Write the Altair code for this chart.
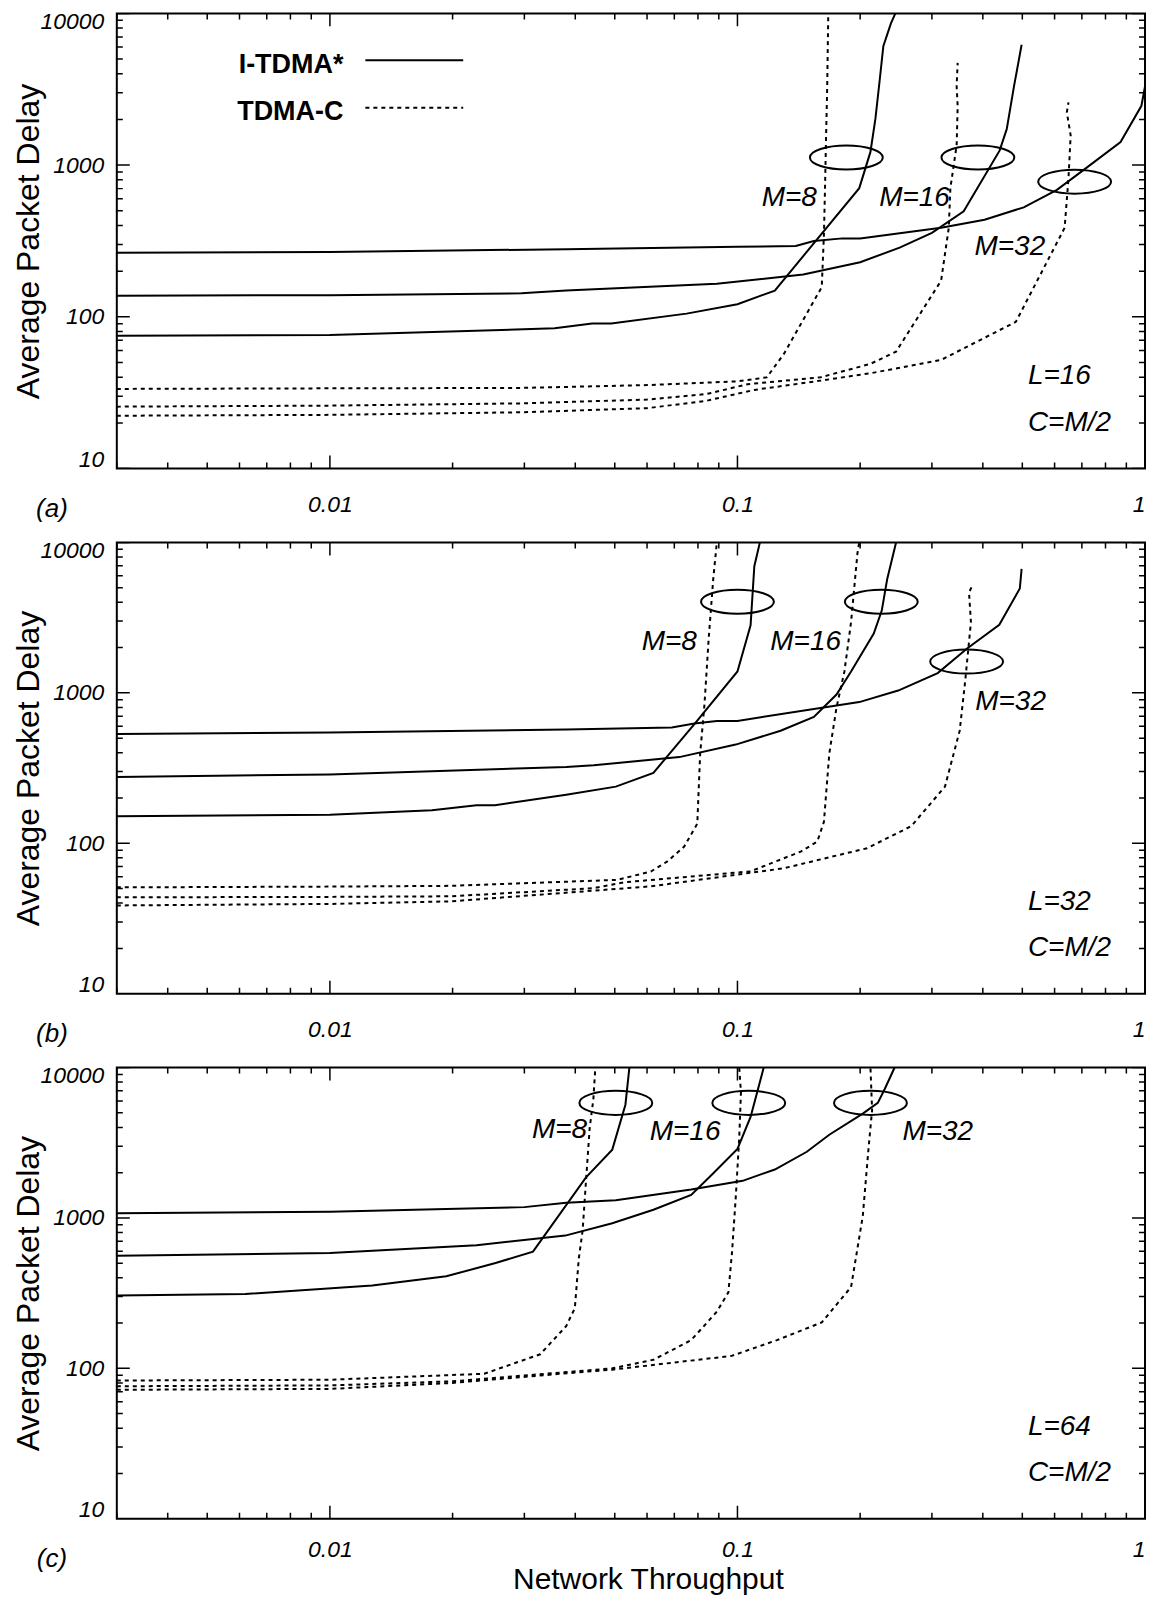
import altair as alt
import pandas as pd

FONT = "Liberation Sans"
W = 1030
HEIGHTS = [456, 452, 452]

# ---------------- data ----------------
# Panel (a): L=16
A_I32_X = [0.003, 0.01, 0.038, 0.1, 0.139, 0.154, 0.181, 0.2, 0.316, 0.404, 0.504, 0.608, 0.706, 0.871, 0.98, 1.0]
A_I32_Y = [265, 268, 279, 290, 293, 316, 329, 329, 386, 437, 527, 687, 927, 1420, 2460, 3300]
A_I16_X = [0.003, 0.01, 0.0295, 0.038, 0.089, 0.145, 0.2, 0.25, 0.3, 0.359, 0.44, 0.458, 0.477, 0.498]
A_I16_Y = [138, 139, 143, 149, 165, 190, 229, 286, 358, 496, 1250, 1733, 3300, 6210]
A_I8_X = [0.003, 0.01, 0.0356, 0.044, 0.049, 0.075, 0.1, 0.1235, 0.199, 0.212, 0.218, 0.223, 0.228, 0.238, 0.244]
A_I8_Y = [75, 76, 84, 90.5, 90.5, 105, 121, 149, 705, 1222, 2015, 3490, 6070, 8600, 10000]
A_C8_X = [0.003, 0.01, 0.0294, 0.06, 0.1, 0.118, 0.13, 0.14, 0.161, 0.163, 0.164, 0.165, 0.166, 0.167]
A_C8_Y = [33.5, 33.8, 34, 35.5, 37.6, 39.9, 57, 81, 157, 349, 705, 1570, 3160, 9500]
A_C16_X = [0.003, 0.01, 0.0294, 0.06, 0.084, 0.106, 0.16, 0.212, 0.245, 0.316, 0.33, 0.333, 0.345, 0.347, 0.345, 0.347]
A_C16_Y = [25.6, 26, 26.9, 28.5, 31, 36, 40, 49, 59, 173, 386, 705, 1350, 2460, 3300, 4720]
A_C32_X = [0.003, 0.01, 0.0294, 0.06, 0.084, 0.11, 0.16, 0.212, 0.316, 0.482, 0.635, 0.649, 0.657, 0.643, 0.649]
A_C32_Y = [22.3, 22.6, 23.5, 25, 28, 33, 38, 42.5, 52, 92.7, 386, 819, 1570, 2230, 2590]

# Panel (b): L=32
B_I32_X = [0.003, 0.01, 0.038, 0.069, 0.0784, 0.089, 0.1, 0.199, 0.248, 0.31, 0.366, 0.439, 0.493, 0.498]
B_I32_Y = [533, 545, 570, 589, 625, 651, 651, 868, 1036, 1353, 1974, 2838, 4940, 6680]
B_I16_X = [0.003, 0.01, 0.038, 0.0444, 0.072, 0.099, 0.1276, 0.154, 0.175, 0.19, 0.216, 0.226, 0.233, 0.245]
B_I16_Y = [276, 287, 322, 330, 374, 453, 560, 692, 975, 1388, 2478, 3524, 5690, 10000]
B_I8_X = [0.003, 0.01, 0.0178, 0.0229, 0.0254, 0.038, 0.0503, 0.0622, 0.0784, 0.1, 0.1077, 0.11, 0.1135]
B_I8_Y = [151, 155, 166, 179, 179, 210, 238, 294, 619, 1388, 2810, 6950, 10000]
B_C8_X = [0.003, 0.01, 0.0198, 0.0507, 0.0613, 0.0673, 0.074, 0.0797, 0.081, 0.083, 0.085, 0.0872, 0.089]
B_C8_Y = [50.9, 51.5, 52.1, 57.1, 64.9, 75.7, 95, 135, 394, 838, 2296, 5690, 10000]
B_C16_X = [0.003, 0.01, 0.0198, 0.0445, 0.0527, 0.1076, 0.143, 0.157, 0.163, 0.168, 0.175, 0.183, 0.19, 0.197, 0.199]
B_C16_Y = [43.7, 44, 44.4, 50.3, 55, 65, 88, 102.6, 139, 394, 798, 1388, 2950, 8500, 10000]
B_C32_X = [0.003, 0.01, 0.0198, 0.0613, 0.13, 0.208, 0.267, 0.323, 0.351, 0.362, 0.374, 0.37, 0.378]
B_C32_Y = [38.6, 39.5, 41.1, 51.7, 68.2, 92.7, 130, 238, 560, 1193, 2950, 4645, 5270]

# Panel (c): L=64
C_I32_X = [0.003, 0.01, 0.03, 0.038, 0.0503, 0.077, 0.103, 0.1235, 0.148, 0.168, 0.203, 0.221, 0.23, 0.243]
C_I32_Y = [1075, 1100, 1180, 1260, 1311, 1543, 1765, 2099, 2754, 3574, 4940, 5820, 7230, 10000]
C_I16_X = [0.003, 0.01, 0.0229, 0.0378, 0.0493, 0.0622, 0.077, 0.087, 0.1, 0.1077, 0.116]
C_I16_Y = [560, 585, 659, 763, 922, 1133, 1422, 1968, 2878, 4690, 10000]
C_I8_X = [0.003, 0.0062, 0.0127, 0.0193, 0.0255, 0.0315, 0.0425, 0.0493, 0.0531, 0.0543]
C_I8_Y = [305, 312, 356, 409, 502, 597, 1862, 2846, 5660, 10000]
C_C8_X = [0.003, 0.01, 0.0239, 0.0328, 0.038, 0.0399, 0.0408, 0.0417, 0.0425, 0.0434, 0.0443, 0.0448]
C_C8_Y = [83, 84, 92, 124, 191, 251, 536, 828, 1765, 3980, 6140, 10000]
C_C16_X = [0.003, 0.01, 0.02, 0.0386, 0.0493, 0.0622, 0.077, 0.089, 0.095, 0.097, 0.099, 0.101, 0.102, 0.101]
C_C16_Y = [76, 77, 82, 94.7, 100, 114, 154, 238, 320, 597, 1346, 3383, 6840, 10000]
C_C32_X = [0.003, 0.01, 0.02, 0.0386, 0.0493, 0.0968, 0.125, 0.161, 0.19, 0.203, 0.21, 0.214, 0.212]
C_C32_Y = [72, 73, 80, 93, 98, 121, 154, 202, 347, 1027, 3034, 5220, 10000]

# Ellipse (group marker) centres
A_ELL_X = [0.185, 0.389, 0.672]
A_ELL_Y = [1122, 1122, 778]
B_ELL_X = [0.1, 0.2254, 0.365]
B_ELL_Y = [4035, 4035, 1614]
C_ELL_X = [0.0503, 0.1066, 0.212]
C_ELL_Y = [5820, 5820, 5820]

# M labels
M_LABELS = ["M=8", "M=16", "M=32"]
A_LAB_X = [0.134, 0.272, 0.466]
A_LAB_Y = [607, 607, 289]
B_LAB_X = [0.068, 0.147, 0.468]
B_LAB_Y = [2163, 2163, 873]
C_LAB_X = [0.0366, 0.0744, 0.31]
C_LAB_Y = [3870, 3735, 3735]

# Parameter labels
PARAM_X = [0.516, 0.516]
PARAM_Y = [40.6, 20.1]
A_PARAMS = ["L=16", "C=M/2"]
B_PARAMS = ["L=32", "C=M/2"]
C_PARAMS = ["L=64", "C=M/2"]
PANEL_IDS = ["(a)", "(b)", "(c)"]

# Axis ticks
X_MAJOR = [0.01, 0.1, 1]
X_MINOR = [0.003, 0.004, 0.005, 0.006, 0.007, 0.008, 0.009,
           0.02, 0.03, 0.04, 0.05, 0.06, 0.07, 0.08, 0.09,
           0.2, 0.3, 0.4, 0.5, 0.6, 0.7, 0.8, 0.9]
Y_MAJOR = [10, 100, 1000, 10000]
Y_MINOR = [20, 30, 40, 50, 60, 70, 80, 90,
           200, 300, 400, 500, 600, 700, 800, 900,
           2000, 3000, 4000, 5000, 6000, 7000, 8000, 9000]

LEGEND_LABELS = ["I-TDMA*", "TDMA-C"]

# ---------------- helpers ----------------
XS = alt.Scale(type="log", domain=[0.003, 1], nice=False)
YS = alt.Scale(type="log", domain=[10, 10000], nice=False)


def lines_df(series):
    rows = []
    for proto, m, xs, ys in series:
        for i, (x, y) in enumerate(zip(xs, ys)):
            rows.append({"proto": proto, "M": m, "x": x, "y": y, "i": i})
    return pd.DataFrame(rows)


def tick_df(major, minor):
    return pd.DataFrame(
        [{"v": v, "kind": "major"} for v in major] + [{"v": v, "kind": "minor"} for v in minor]
    )


def x_axis(show_title):
    kw = dict(values=X_MAJOR, format="~g", labelFont=FONT, labelFontSize=23,
              labelFontStyle="italic", labelColor="black",
              ticks=False, domain=False, grid=False)
    if show_title:
        kw.update(labelPadding=20,
                  title="Network Throughput", titleFont=FONT, titleFontSize=30,
                  titleFontWeight="normal", titleColor="black", titlePadding=3,
                  titleX=532)
    else:
        kw.update(labelPadding=25, title=None)
    return alt.Axis(**kw)


Y_AXIS = alt.Axis(values=Y_MAJOR, format="d", labelFont=FONT, labelFontSize=23,
                  labelFontStyle="italic", labelColor="black", labelPadding=13,
                  labelFlush=True, labelFlushOffset=3,
                  ticks=False, domain=False, grid=False,
                  title="Average Packet Delay", titleFont=FONT, titleFontSize=32,
                  titleFontWeight="normal", titleColor="black", titlePadding=-6)

SIZE_SCALE = alt.Scale(domain=["major", "minor"], range=[26, 12])


def tick_layers(XA, H):
    xt = tick_df(X_MAJOR, X_MINOR)
    yt = tick_df(Y_MAJOR, Y_MINOR)
    common = dict(clip=True, color="black", thickness=1.5, opacity=1)
    size = alt.Size("kind:N", scale=SIZE_SCALE, legend=None)
    layers = []
    for xv in (0, W):
        layers.append(alt.Chart(yt).mark_tick(orient="horizontal", **common).encode(
            y=alt.Y("v:Q", scale=YS, axis=Y_AXIS), x=alt.value(xv), size=size))
    for yv in (0, H):
        layers.append(alt.Chart(xt).mark_tick(orient="vertical", **common).encode(
            x=alt.X("v:Q", scale=XS, axis=XA), y=alt.value(yv), size=size))
    return layers


def panel(series, ell_x, ell_y, lab_x, lab_y, params, pid, last, H, legend=False):
    XA = x_axis(last)
    X = lambda f: alt.X(f, scale=XS, axis=XA)
    Y = lambda f: alt.Y(f, scale=YS, axis=Y_AXIS)

    df = lines_df(series)
    base = alt.Chart(df)
    solid = base.transform_filter(alt.datum.proto == "I-TDMA*").mark_line(
        clip=True, color="black", strokeWidth=2).encode(
        x=X("x:Q"), y=Y("y:Q"), detail="M:N", order="i:Q")
    dotted = base.transform_filter(alt.datum.proto == "TDMA-C").mark_line(
        clip=True, color="black", strokeWidth=2, strokeDash=[4, 4]).encode(
        x=X("x:Q"), y=Y("y:Q"), detail="M:N", order="i:Q")

    ell_df = pd.DataFrame({"x": ell_x, "y": ell_y})
    ellipse = alt.Chart(ell_df).mark_point(
        shape="M -1 0 A 1 0.33 0 1 1 1 0 A 1 0.33 0 1 1 -1 0 Z",
        size=5329, filled=False, color="black", strokeWidth=2, opacity=1).encode(
        x=X("x:Q"), y=Y("y:Q"))

    lab_df = pd.DataFrame({"x": lab_x, "y": lab_y, "t": M_LABELS})
    mlab = alt.Chart(lab_df).mark_text(
        font=FONT, fontSize=28, fontStyle="italic", color="black",
        align="center", baseline="middle").encode(
        x=X("x:Q"), y=Y("y:Q"), text="t:N")

    par_df = pd.DataFrame({"x": PARAM_X, "y": PARAM_Y, "t": params})
    plab = alt.Chart(par_df).mark_text(
        font=FONT, fontSize=28, fontStyle="italic", color="black",
        align="left", baseline="middle").encode(
        x=X("x:Q"), y=Y("y:Q"), text="t:N")

    one = alt.Data(values=[{}])
    pid_mark = alt.Chart(one).mark_text(
        text=pid, font=FONT, fontSize=26, fontStyle="italic", color="black",
        align="center", baseline="middle").encode(
        x=alt.value(-65), y=alt.value(H + 40))

    layers = [solid, dotted] + tick_layers(XA, H) + [ellipse, mlab, plab, pid_mark]

    if legend:
        for k, (lab, ty, ly) in enumerate(zip(LEGEND_LABELS, [52, 98.5], [47, 94.5])):
            layers.append(alt.Chart(one).mark_text(
                text=lab, font=FONT, fontSize=27, fontWeight="bold", color="black",
                align="right", baseline="middle").encode(
                x=alt.value(227), y=alt.value(ty)))
            rule_kw = dict(color="black", strokeWidth=2)
            if k == 1:
                rule_kw["strokeDash"] = [4, 4]
            layers.append(alt.Chart(one).mark_rule(**rule_kw).encode(
                x=alt.value(249), x2=alt.value(347), y=alt.value(ly)))

    return alt.layer(*layers).properties(width=W, height=H)


pa = panel([("I-TDMA*", 8, A_I8_X, A_I8_Y), ("I-TDMA*", 16, A_I16_X, A_I16_Y),
            ("I-TDMA*", 32, A_I32_X, A_I32_Y), ("TDMA-C", 8, A_C8_X, A_C8_Y),
            ("TDMA-C", 16, A_C16_X, A_C16_Y), ("TDMA-C", 32, A_C32_X, A_C32_Y)],
           A_ELL_X, A_ELL_Y, A_LAB_X, A_LAB_Y, A_PARAMS, PANEL_IDS[0], False,
           HEIGHTS[0], legend=True)
pb = panel([("I-TDMA*", 8, B_I8_X, B_I8_Y), ("I-TDMA*", 16, B_I16_X, B_I16_Y),
            ("I-TDMA*", 32, B_I32_X, B_I32_Y), ("TDMA-C", 8, B_C8_X, B_C8_Y),
            ("TDMA-C", 16, B_C16_X, B_C16_Y), ("TDMA-C", 32, B_C32_X, B_C32_Y)],
           B_ELL_X, B_ELL_Y, B_LAB_X, B_LAB_Y, B_PARAMS, PANEL_IDS[1], False,
           HEIGHTS[1])
pc = panel([("I-TDMA*", 8, C_I8_X, C_I8_Y), ("I-TDMA*", 16, C_I16_X, C_I16_Y),
            ("I-TDMA*", 32, C_I32_X, C_I32_Y), ("TDMA-C", 8, C_C8_X, C_C8_Y),
            ("TDMA-C", 16, C_C16_X, C_C16_Y), ("TDMA-C", 32, C_C32_X, C_C32_Y)],
           C_ELL_X, C_ELL_Y, C_LAB_X, C_LAB_Y, C_PARAMS, PANEL_IDS[2], True,
           HEIGHTS[2])

chart = alt.vconcat(pa, pb, pc, spacing=16).properties(
    padding={"left": 4, "top": 0, "right": 0, "bottom": 0}
).configure(font=FONT).configure_view(stroke="black", strokeWidth=2)

chart.save("out.html", embed_options={"renderer": "svg", "actions": False})
